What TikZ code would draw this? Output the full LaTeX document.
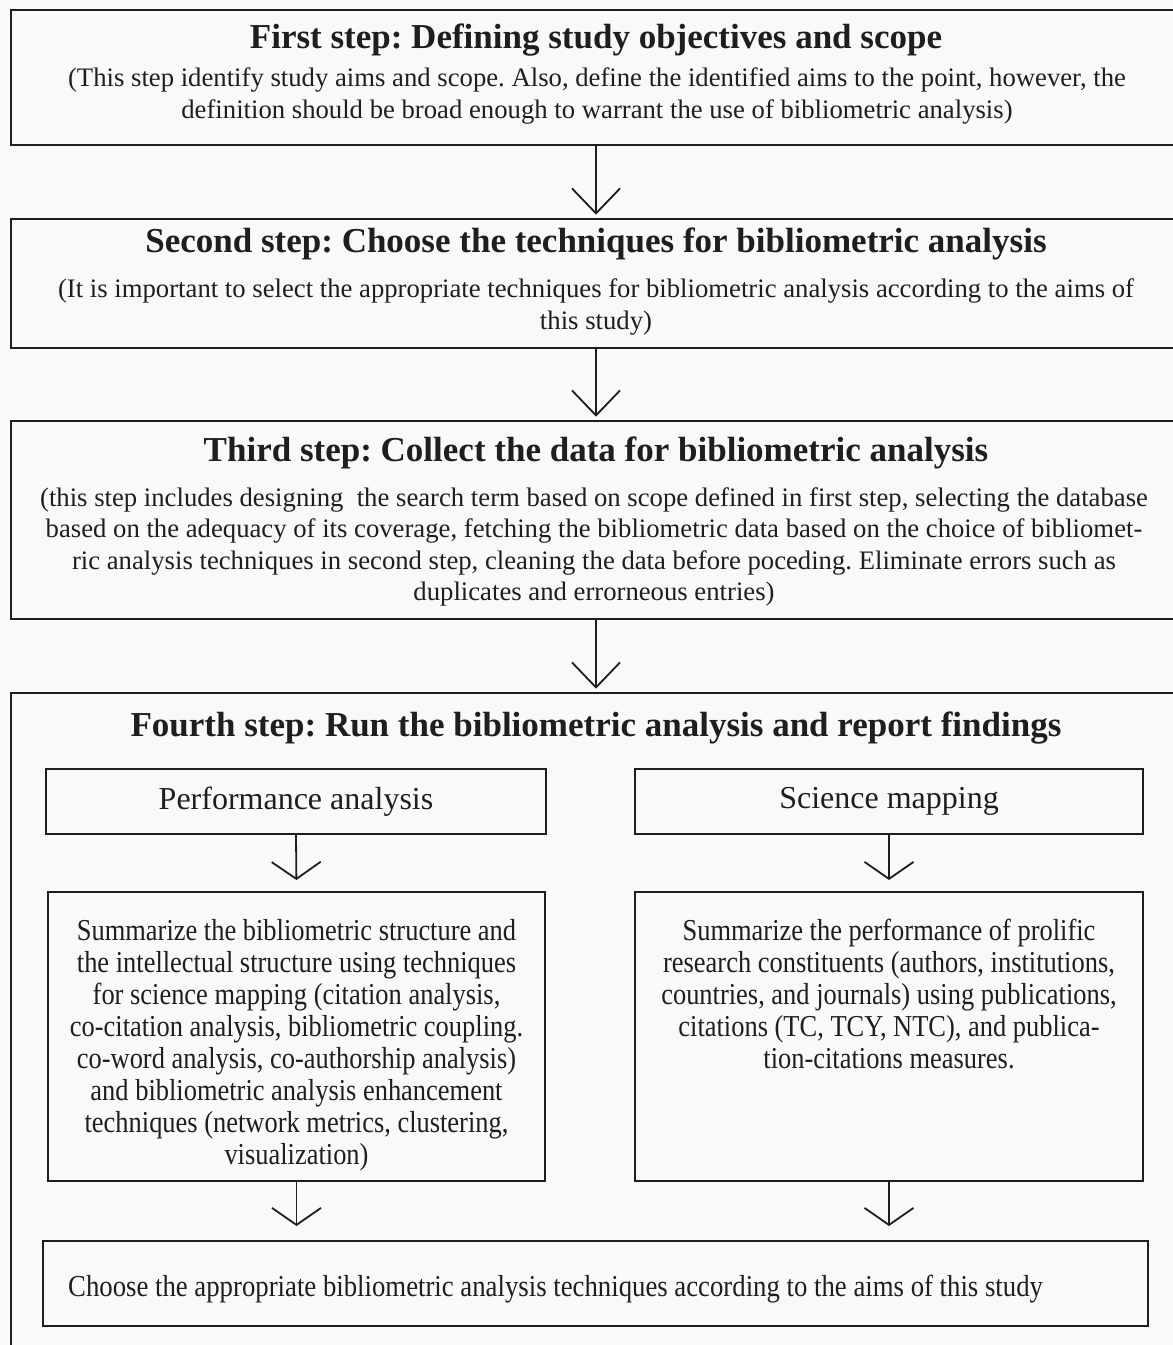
\documentclass[tikz,border=0pt]{standalone}
\usepackage{fontspec}
\setmainfont{Liberation Serif}
\newfontfamily\condserif[FakeStretch=0.87]{Liberation Serif}
\newfontfamily\condserifb[FakeStretch=0.88]{Liberation Serif}
\usetikzlibrary{arrows.meta}
\definecolor{bg}{RGB}{249,249,249}
\definecolor{ink}{RGB}{30,30,30}
\frenchspacing
\begin{document}
\frenchspacing
\begin{tikzpicture}[x=1pt,y=-1pt,
  outerbox/.style={draw=ink, line width=2.6pt, fill=bg, rectangle, inner sep=0pt},
  innerbox/.style={draw=ink, line width=2pt, rectangle, inner sep=0pt, text=ink},
  flow/.style={draw=ink, line width=1.8pt, -{Straight Barb[length=25pt,width=48pt]}, shorten >=3pt},
  subflow/.style={draw=ink, line width=1.8pt, -{Straight Barb[length=17pt,width=49pt]}},
  steptitle/.style={font=\bfseries\fontsize{35}{40}\selectfont, anchor=base, inner sep=0pt, text=ink},
  stepbody/.style={font=\fontsize{26.7}{31.5}\selectfont, align=center, anchor=base, inner sep=0pt, text=ink},
  boxlabel/.style={font=\fontsize{32}{36}\selectfont},
  sumtext/.style={font=\condserif\fontsize{30.4}{32.1}\selectfont, align=center, anchor=base, inner sep=0pt, text=ink}
]
\useasboundingbox (0,0) rectangle (1173,1345);
\fill[bg] (0,0) rectangle (1173,1345);
\begin{scope}
  \clip (0,0) rectangle (1173,1345);
  \node[outerbox, minimum width=1170pt, minimum height=135pt] (s1) at (596,77.5) {};
  \node[outerbox, minimum width=1170pt, minimum height=129pt] (s2) at (596,283.5) {};
  \node[outerbox, minimum width=1170pt, minimum height=198pt] (s3) at (596,520) {};
  \node[outerbox, minimum width=1170pt, minimum height=680pt] (s4) at (596,1033) {};
\end{scope}

% step 1 (multi-line nodes: base anchor = baseline of last line)
\node[steptitle] (t1) at (596,48) {First step: Defining study objectives and scope};
\node[stepbody] (b1) at (597,118) {(This step identify study aims and scope. Also, define the identified aims to the point, however, the\\definition should be broad enough to warrant the use of bibliometric analysis)};

% step 2
\node[steptitle] (t2) at (596,252) {Second step: Choose the techniques for bibliometric analysis};
\node[stepbody] (b2) at (596,329) {(It is important to select the appropriate techniques for bibliometric analysis according to the aims of\\this study)};

% step 3
\node[steptitle] (t3) at (596,461) {Third step: Collect the data for bibliometric analysis};
\node[stepbody] (b3) at (594,600.5) {(this step includes designing\ \ the search term based on scope defined in first step, selecting the database\\based on the adequacy of its coverage, fetching the bibliometric data based on the choice of bibliomet-\\ric analysis techniques in second step, cleaning the data before poceding. Eliminate errors such as\\duplicates and errorneous entries)};

% step 4
\node[steptitle] (t4) at (596,736) {Fourth step: Run the bibliometric analysis and report findings};

\node[innerbox, boxlabel, minimum width=500pt, minimum height=65pt] (pa) at (296,801.5) {Performance analysis};
\node[innerbox, boxlabel, minimum width=508pt, minimum height=65pt] (sm) at (889,801.5) {Science mapping};

\node[innerbox, minimum width=497pt, minimum height=289pt] (sl) at (296.5,1036.5) {};
\node[innerbox, minimum width=508pt, minimum height=289pt] (sr) at (889,1036.5) {};

\node[sumtext] (slt) at (296.5,1164.7) {Summarize the bibliometric structure and\\the intellectual structure using techniques\\for science mapping (citation analysis,\\co-citation analysis, bibliometric coupling.\\co-word analysis, co-authorship analysis)\\and bibliometric analysis enhancement\\techniques (network metrics, clustering,\\visualization)};
\node[sumtext] (srt) at (889,1068.4) {Summarize the performance of prolific\\research constituents (authors, institutions,\\countries, and journals) using publications,\\citations (TC, TCY, NTC), and publica-\\tion-citations measures.};

\node[innerbox, minimum width=1105pt, minimum height=85pt] (bot) at (595.5,1283.5) {};
\node[sumtext, font=\condserifb\fontsize{30.4}{32.1}\selectfont, anchor=base west] (bott) at (68,1296) {Choose the appropriate bibliometric analysis techniques according to the aims of this study};

% connectors
\draw[flow] (s1.south) -- (s2.north);
\draw[flow] (s2.south) -- (s3.north);
\draw[flow] (s3.south) -- (s4.north);
\draw[subflow, shorten >=11pt] (pa.south) -- (sl.north);
\draw[subflow, shorten >=11pt] (sm.south) -- (sr.north);
\draw[subflow, shorten >=14pt] (sl.south) -- (sl.south |- bot.north);
\draw[subflow, shorten >=14pt] (sr.south) -- (sr.south |- bot.north);
\end{tikzpicture}
\end{document}
